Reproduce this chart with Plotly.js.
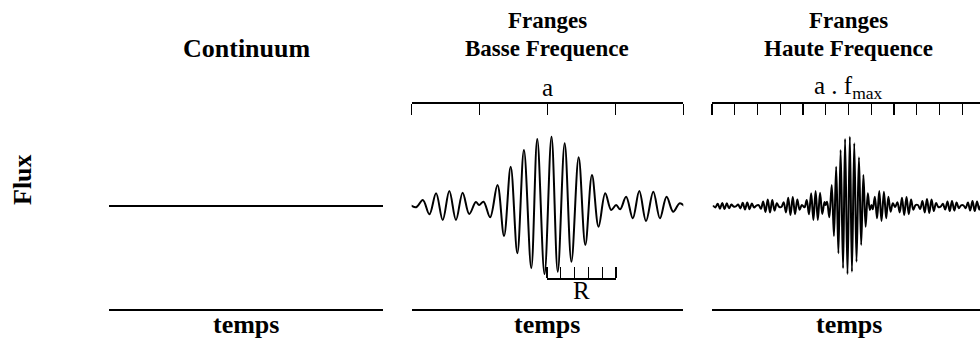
<!DOCTYPE html>
<html><head><meta charset="utf-8">
<script src="https://cdn.plot.ly/plotly-3.0.1.min.js"></script>
<style>html,body{margin:0;padding:0;background:#fff;} #chart{width:980px;height:338px;}</style>
</head><body><div id="chart"></div>
<script>
// ---- data ----
const panelTitles = ["Continuum", "Franges<br>Basse Frequence", "Franges<br>Haute Frequence"];
const timeLabel = "temps";
const fluxLabel = "Flux";
const scaleLabels = ["a", "a . f<sub>max</sub>"];
const resolutionLabel = "R";

const continuumT = [-2, 2];
const continuumFlux = [0, 0];

const fringeT = [
  -5.95,-5.85,-5.75,-5.65,-5.55,-5.45,-5.35,-5.25,-5.15,-5.05,
  -4.95,-4.85,-4.75,-4.65,-4.55,-4.45,-4.35,-4.25,-4.15,-4.05,
  -3.95,-3.85,-3.75,-3.65,-3.55,-3.45,-3.35,-3.25,-3.15,-3.05,
  -2.95,-2.85,-2.75,-2.65,-2.55,-2.45,-2.35,-2.25,-2.15,-2.05,
  -1.934,-1.836,-1.739,-1.641,-1.543,-1.446,-1.348,-1.250,-1.153,-1.055,-1.007,-0.942,-0.845,-0.737,
  -0.640,-0.542,-0.444,-0.347,-0.239,-0.151,-0.044,0.059,0.151,0.253,0.352,0.459,0.557,0.655,0.752,
  0.850,0.938,1.011,1.070,1.158,1.256,1.352,1.451,1.558,1.656,1.754,1.851,1.949,
  2.05,2.15,2.25,2.35,2.45,2.55,2.65,2.75,2.85,2.95,
  3.05,3.15,3.25,3.35,3.45,3.55,3.65,3.75,3.85,3.95,
  4.05,4.15,4.25,4.35,4.45,4.55,4.65,4.75,4.85,4.95,
  5.05,5.15,5.25,5.35,5.45,5.55,5.65,5.75,5.85,5.95
];
const fringeFlux = [
  0.5,-1.4,2.3,-2.8,3,-3,2.8,-2.3,1.4,-0.5,
  -0.4,1.5,-2.5,3.2,-3.5,3.5,-3.2,2.5,-1.5,0.4,
  0.8,-2.8,4.6,-6,6.6,-6.6,6,-4.6,2.8,-0.8,
  -1,3.8,-6.5,8.2,-9,9,-8.2,6.5,-3.8,1,
  -1.3,6,-8.3,12.7,-14,15,-14,13.3,-8,4,1,4.3,-11.3,21,
  -30,39.3,-47.3,56,-62.3,67,-68,69.3,-65.7,62.7,-55.7,48.7,-39,31,-20.7,
  12.7,-4,1,-3.3,9.3,-12.3,15,-15,14.3,-12.3,9.3,-5.7,2.7,
  -1,3.8,-6.5,8.2,-9,9,-8.2,6.5,-3.8,1,
  1,-3,5,-6.4,7,-7,6.4,-5,3,-1,
  -0.7,2.2,-3.6,4.6,-5,5,-4.6,3.6,-2.2,0.7,
  0.7,-2.2,3.6,-4.6,5,-5,4.6,-3.6,2.2,-0.7
];

const lowFreqTicks = [-2, -1, 0, 1, 2];
const highFreqTicks = [-6, -5, -4, -3, -2, -1, 0, 1, 2, 3, 4, 5];
const resolutionTicks = [0, 0.2, 0.4, 0.6, 0.8, 1];

// ---- layout helpers ----
const W = 980, H = 338;
const px = v => v / W;
const py = v => 1 - v / H;
const yDom = [py(309), py(102)];
const yRange = [-103, 104];
const FONT = "Liberation Serif, Times New Roman, serif";
const LW = 1.5;
const hiRange = [-6, (980 - 848.5) / 22.75];

const waveLine = {color: "#000", width: 2, shape: "spline", smoothing: 1};
const traces = [
  {x: continuumT, y: continuumFlux, xaxis: "x", yaxis: "y", mode: "lines", line: {color: "#000", width: 2}, hoverinfo: "skip"},
  {x: fringeT, y: fringeFlux, xaxis: "x2", yaxis: "y2", mode: "lines", line: waveLine, hoverinfo: "skip"},
  {x: fringeT, y: fringeFlux, xaxis: "x3", yaxis: "y3", mode: "lines", line: waveLine, hoverinfo: "skip"},
  {x: [], y: [], xaxis: "x4", yaxis: "y2", mode: "lines", hoverinfo: "skip"},
  {x: [], y: [], xaxis: "x5", yaxis: "y3", mode: "lines", hoverinfo: "skip"},
  {x: [], y: [], xaxis: "x6", yaxis: "y2", mode: "lines", hoverinfo: "skip"}
];

const baseX = {showgrid: false, zeroline: false, showticklabels: false, linecolor: "#000", linewidth: LW, tickcolor: "#000", tickwidth: 1.4};
const hiddenY = {domain: yDom, range: yRange, visible: false, showgrid: false, zeroline: false};

const layout = {
  width: W, height: H,
  margin: {l: 0, r: 0, t: 0, b: 0, pad: 0},
  paper_bgcolor: "#fff", plot_bgcolor: "rgba(0,0,0,0)",
  showlegend: false,
  font: {family: FONT, color: "#000"},
  xaxis: Object.assign({}, baseX, {domain: [px(109), px(383)], range: [-2, 2], anchor: "y", showline: true, ticks: ""}),
  yaxis: Object.assign({}, hiddenY, {anchor: "x"}),
  // top scale bar "a": line with ticks hanging down
  xaxis2: Object.assign({}, baseX, {domain: [px(411.7), px(683.3)], range: [-2, 2], anchor: "free", position: py(102), side: "bottom",
    showline: true, tickmode: "array", tickvals: lowFreqTicks, ticks: "outside", ticklen: 11}),
  yaxis2: Object.assign({}, hiddenY, {anchor: "x2"}),
  // top scale bar "a . fmax"
  xaxis3: Object.assign({}, baseX, {domain: [px(712), 1], range: hiRange, anchor: "free", position: py(102), side: "bottom",
    showline: true, tickmode: "array", tickvals: highFreqTicks, ticks: "outside", ticklen: 11}),
  yaxis3: Object.assign({}, hiddenY, {anchor: "x3"}),
  // time axes (bottom lines)
  xaxis4: Object.assign({}, baseX, {overlaying: "x2", anchor: "y2", side: "bottom", range: [-2, 2], showline: true, ticks: ""}),
  xaxis5: Object.assign({}, baseX, {overlaying: "x3", anchor: "y3", side: "bottom", range: hiRange, showline: true, ticks: ""}),
  // resolution bracket "R": ticks pointing up
  xaxis6: Object.assign({}, baseX, {domain: [px(547), px(616)], range: [0, 1], anchor: "free", position: py(278), side: "top",
    showline: true, tickmode: "array", tickvals: resolutionTicks, ticks: "outside", ticklen: 11}),
  annotations: []
};

const bold = {family: FONT, size: 26, color: "#000", weight: "bold"};
const boldTitle = {family: FONT, size: 23, color: "#000", weight: "bold"};
const reg = {family: FONT, size: 25, color: "#000"};
function ann(text, x, y, font, extra) {
  layout.annotations.push(Object.assign({text: text, xref: "paper", yref: "paper", x: px(x), y: py(y),
    xanchor: "center", yanchor: "middle", showarrow: false, font: font, align: "center"}, extra || {}));
}
function titleLines(text, x, font) {
  const lines = text.split("<br>");
  const last = 48, gap = 27;
  lines.forEach((ln, i) => ann(ln, x, last - (lines.length - 1 - i) * gap, font));
}
titleLines(panelTitles[0], 246, bold);
titleLines(panelTitles[1], 547, boldTitle);
titleLines(panelTitles[2], 848.5, boldTitle);
ann(scaleLabels[0], 547.5, 87, reg);
ann(scaleLabels[1], 848.5, 87, reg);
ann(resolutionLabel, 581.5, 290, reg);
ann(timeLabel, 246, 324, bold);
ann(timeLabel, 547, 324, bold);
ann(timeLabel, 848.5, 324, bold);
ann(fluxLabel, 22, 180, bold, {textangle: -90});

Plotly.newPlot("chart", traces, layout, {staticPlot: true, displayModeBar: false});
</script>
</body></html>
